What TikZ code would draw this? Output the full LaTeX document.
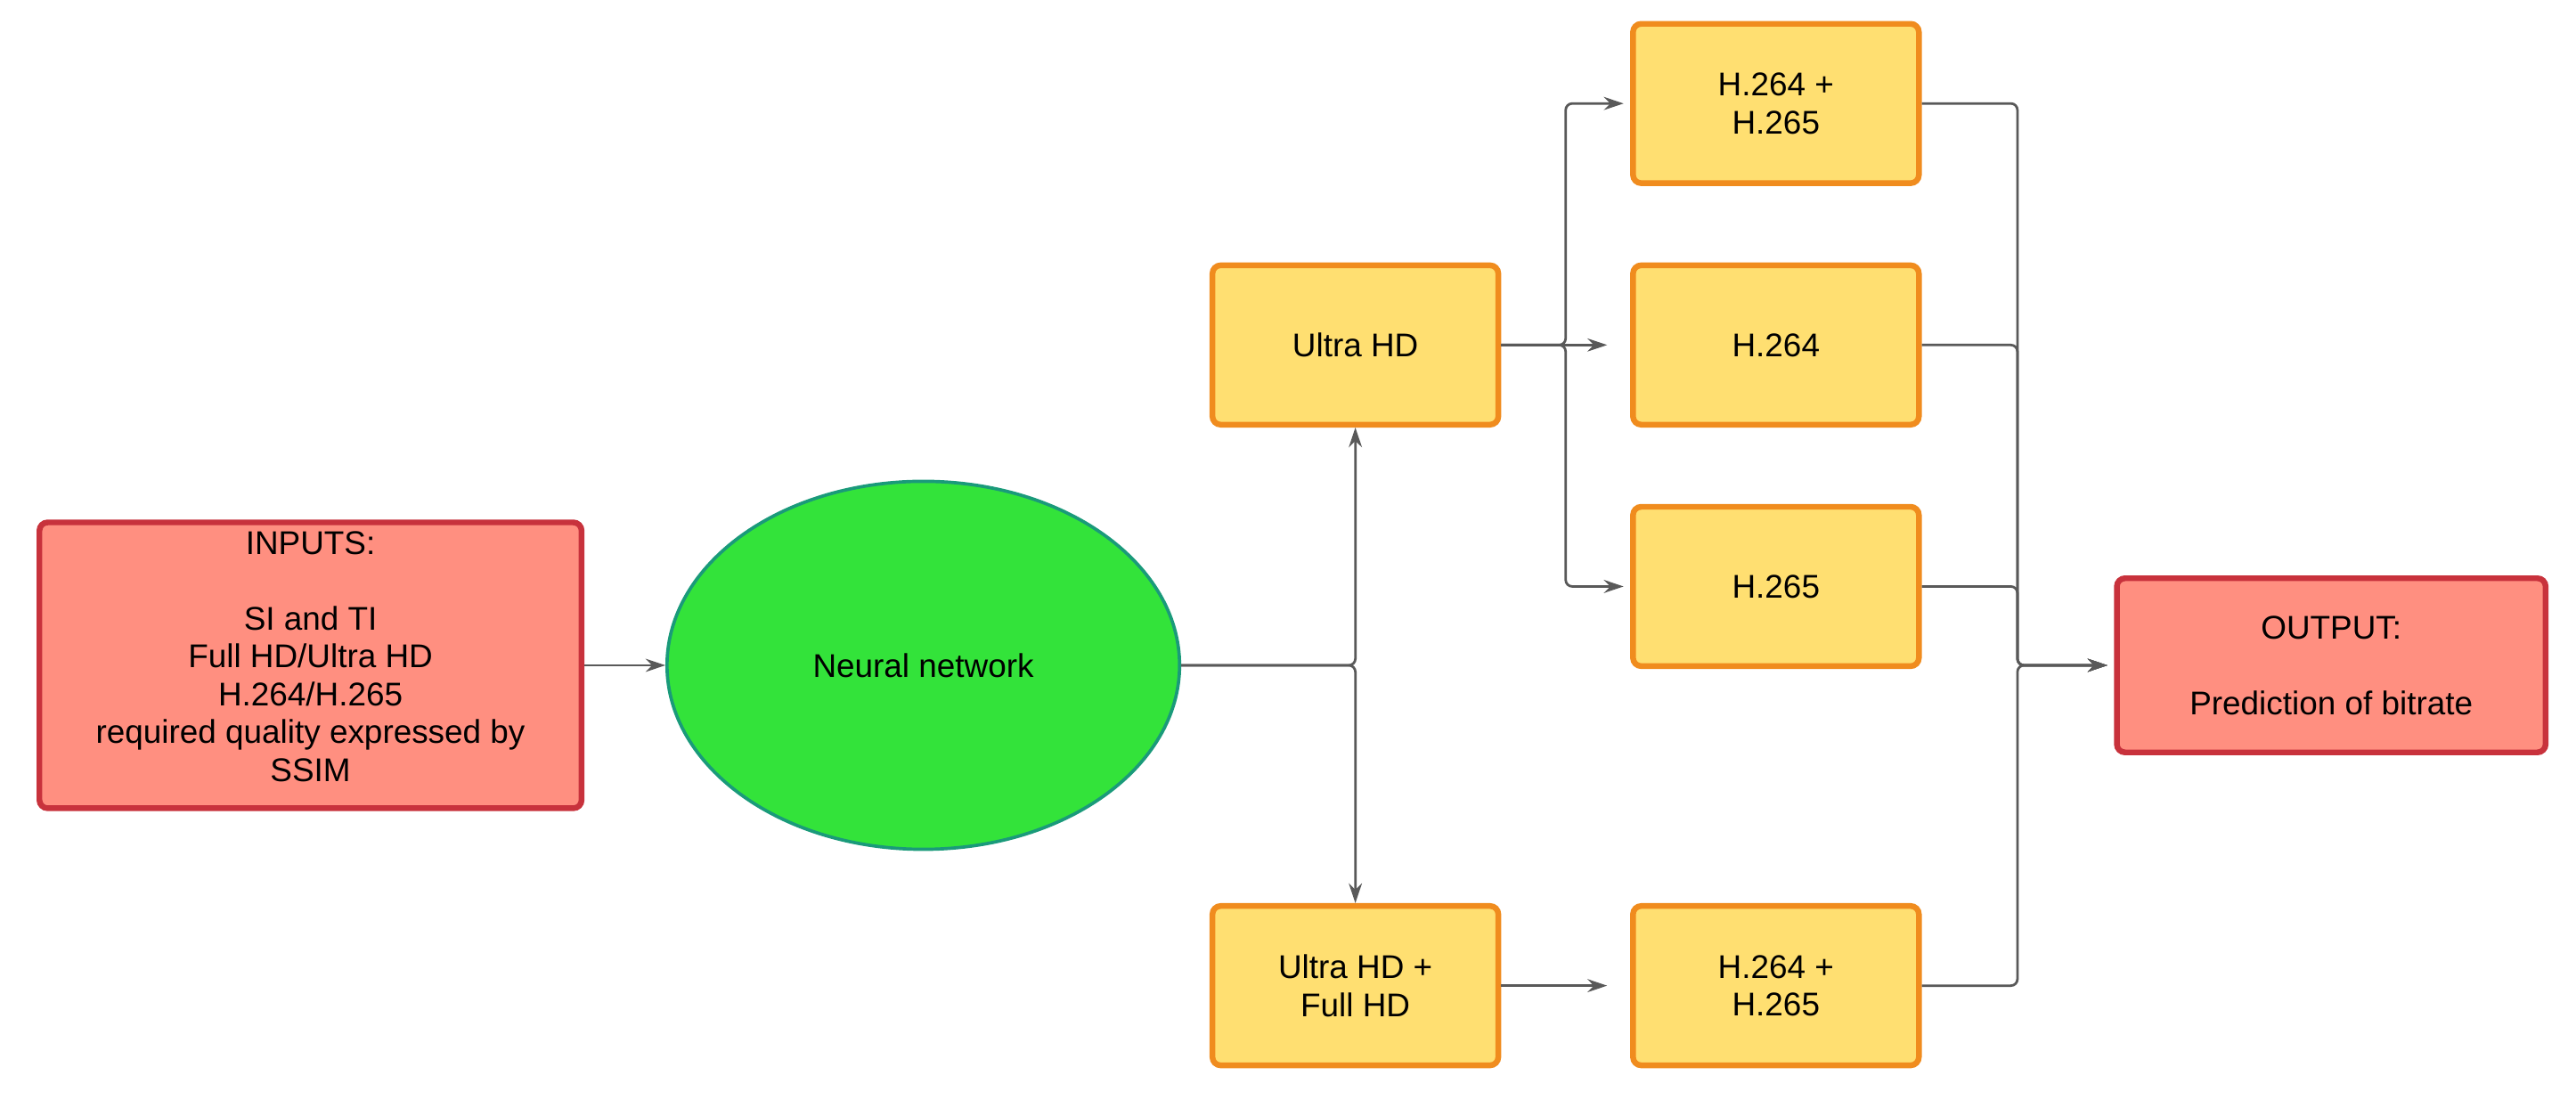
\documentclass[tikz,border=0pt]{standalone}
\usepackage{fontspec}
\setmainfont{Liberation Sans}
\usetikzlibrary{arrows.meta,shapes.geometric}
\definecolor{salmon}{HTML}{FF8F80}
\definecolor{redb}{HTML}{C8323C}
\definecolor{yel}{HTML}{FFDF71}
\definecolor{orb}{HTML}{F08C1E}
\definecolor{grn}{HTML}{33E33A}
\definecolor{teal2}{HTML}{1A9A7A}
\definecolor{con}{HTML}{595959}
\begin{document}
\begin{tikzpicture}[x=1pt,y=-1pt,
  txt/.style={font=\fontsize{20}{23}\selectfont,align=center},
  red box/.style={txt,draw=redb,fill=salmon,line width=3.5pt,rounded corners=5pt,inner sep=0pt},
  yb/.style={txt,draw=orb,fill=yel,line width=3.5pt,rounded corners=5pt,minimum width=174pt,minimum height=97pt,inner sep=0pt},
  con/.style={draw=con,line width=1.5pt,rounded corners=4pt,-{Stealth[length=12pt,width=8pt]}}]
\useasboundingbox (0,0) rectangle (1568,674);
\node[red box,minimum width=330pt,minimum height=174pt] (in) at (189,405) {};
\node[txt,anchor=north] (intext) at (189,320) {INPUTS:\\[23pt]SI and TI\\Full HD/Ultra HD\\H.264/H.265\\required quality expressed by\\SSIM};
\node[ellipse,draw=teal2,fill=grn,line width=2pt,minimum width=312pt,minimum height=224pt,txt] (nn) at (562,405) {Neural network};
\node[yb] (uhd) at (825,210) {Ultra HD};
\node[yb] (uf) at (825,600) {Ultra HD +\\Full HD};
\node[yb] (a) at (1081,63) {H.264 +\\H.265};
\node[yb] (b) at (1081,210) {H.264};
\node[yb] (c) at (1081,357) {H.265};
\node[yb] (d) at (1081,600) {H.264 +\\H.265};
\node[red box,minimum width=261pt,minimum height=106pt] (out) at (1419,405) {OUTPUT:\\[23pt]Prediction of bitrate};
\coordinate (s) at (825,405);
\coordinate (j) at (1228,405);
\draw[con] (in.east) -- (nn.west);
\draw[con] (nn.east) -- (s) -- (uhd.south);
\draw[con] (nn.east) -- (s) -- (uf.north);
\draw[con] (uhd.east) -- (953,210) -- (953,63) -- ([xshift=-4pt]a.west);
\draw[con] (uhd.east) -- ([xshift=-14pt]b.west);
\draw[con] (uhd.east) -- (953,210) -- (953,357) -- ([xshift=-4pt]c.west);
\draw[con] (uf.east) -- ([xshift=-14pt]d.west);
\foreach \n in {a,b,c,d}
  \draw[con] (\n.east) -- (j |- \n.east) -- (j) -- ([xshift=-4pt]out.west);
\end{tikzpicture}
\end{document}
